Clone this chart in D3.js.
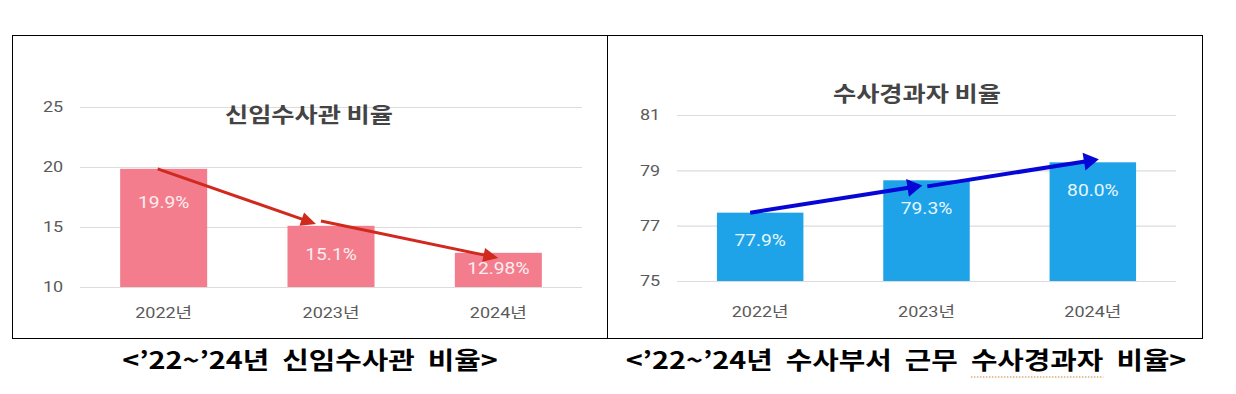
<!DOCTYPE html>
<html>
  <head>
    <meta charset="utf-8">
    <style>
      body { margin: 0; background: #fff; }
      svg { display: block; }
    </style>
    <title>신임수사관 / 수사경과자 비율</title>
  </head>
  <body>
    <script src="https://cdn.jsdelivr.net/npm/d3@7"></script>
    <script>

/*========== Data ==========*/
const years = ["2022년", "2023년", "2024년"];

// left chart: 신임수사관 비율
const newTicks = [10, 15, 20, 25];
const newBars = [19.85, 15.1, 12.85];
const newLabels = ["19.9%", "15.1%", "12.98%"];
// trend arrows: [from index, from value, to index, to value]
const newTrend = [[-0.036, 19.85, 0.91, 15.25], [0.94, 15.5, 2.0, 12.42]];

// right chart: 수사경과자 비율
const careerTicks = [75, 77, 79, 81];
const careerBars = [77.47, 78.64, 79.29];
const careerLabels = ["77.9%", "79.3%", "80.0%"];
const careerTrend = [[-0.06, 77.47, 0.975, 78.45], [1.005, 78.42, 2.036, 79.4]];

const captions = ["<’22~’24년  신임수사관  비율>", "<’22~’24년  수사부서  근무  수사경과자  비율>"];

/*========== Zones ==========*/
const W = 1236, H = 394;
const SX = 1.2; // the original image is stretched horizontally
const svg = d3.select("body").append("svg")
    .attr("width", W)
    .attr("height", H);

const fontUI = "Roboto, 'Noto Sans CJK KR', sans-serif";
const fontKR = "'Noto Sans CJK KR', sans-serif";

// text placed at (x, y) with the horizontal stretch
function stretchedText(g, x, y) {
  return g.append("text").attr("transform", `translate(${x},${y}) scale(${SX},1)`);
}

// panel config (layout only)
const panels = [
  { box: [12, 35, 595, 303], xr: [80, 582], yr: [287, 107], domain: [10, 25],
    ticks: newTicks, bars: newBars, labels: newLabels, trend: newTrend,
    title: "신임수사관 비율", titleX: 309, titleY: 115,
    barColor: "#f47d8d", labelColor: "#fbeef0", arrowColor: "#d0291d", arrowW: 3, headL: 15, headW: 7,
    labelGap: 34, labelMin: true, xLabelY: 313 },
  { box: [607, 35, 595, 303], xr: [677, 1176], yr: [281, 115], domain: [75, 81],
    ticks: careerTicks, bars: careerBars, labels: careerLabels, trend: careerTrend,
    title: "수사경과자 비율", titleX: 917, titleY: 94,
    barColor: "#1ea3e8", labelColor: "#e6f6ff", arrowColor: "#0606d6", arrowW: 4, headL: 15, headW: 9,
    labelGap: 28, labelMin: false, xLabelY: 312 }
];

function drawPanel(p) {
  const g = svg.append("g");

  g.append("rect")
      .attr("x", p.box[0] + 0.5).attr("y", p.box[1] + 0.5)
      .attr("width", p.box[2]).attr("height", p.box[3])
      .attr("fill", "none").attr("stroke", "#000").attr("stroke-width", 1);

  const x = d3.scaleBand().domain(years).range(p.xr)
      .paddingInner(0.48).paddingOuter(0.24);
  const y = d3.scaleLinear().domain(p.domain).range(p.yr);
  // fractional category index -> band centre
  const xi = d3.scaleLinear().domain([0, 1])
      .range([x(years[0]) + x.bandwidth() / 2, x(years[1]) + x.bandwidth() / 2]);

  // grid lines + tick labels
  const yAxis = d3.axisLeft(y).tickValues(p.ticks)
      .tickSize(-(p.xr[1] - p.xr[0])).tickPadding(14).tickFormat(d3.format("d"));
  const ax = g.append("g")
      .attr("transform", `translate(${p.xr[0]},0)`)
      .call(yAxis);
  ax.select(".domain").remove();
  ax.selectAll(".tick line").attr("stroke", "#dcdcdc").attr("stroke-width", 1.2);
  ax.selectAll(".tick text")
      .attr("transform", `scale(${SX},1)`)
      .attr("fill", "#5a5a5a").style("font-family", fontUI).style("font-size", "15px");

  // x labels
  years.forEach(d => {
    stretchedText(g, x(d) + x.bandwidth() / 2, p.xLabelY)
        .attr("dy", "0.35em")
        .attr("text-anchor", "middle")
        .attr("fill", "#5a5a5a")
        .style("font-family", fontUI).style("font-size", "15px")
        .text(d);
  });

  // title
  stretchedText(g, p.titleX, p.titleY)
      .attr("dy", "0.35em")
      .attr("text-anchor", "middle")
      .attr("fill", "#444")
      .style("font-family", fontKR).style("font-size", "21px").style("font-weight", "bold")
      .text(p.title);

  // bars
  g.selectAll(".bar").data(p.bars).enter().append("rect")
      .attr("x", (d, i) => x(years[i]))
      .attr("y", d => y(d))
      .attr("width", x.bandwidth())
      .attr("height", d => y(p.domain[0]) - y(d))
      .attr("fill", p.barColor);

  // value labels inside bars
  p.bars.forEach((d, i) => {
    const h = y(p.domain[0]) - y(d);
    const off = p.labelMin ? Math.min(p.labelGap, h / 2 - 2) : p.labelGap;
    stretchedText(g, x(years[i]) + x.bandwidth() / 2, y(d) + off)
        .attr("dy", "0.35em")
        .attr("text-anchor", "middle")
        .attr("fill", p.labelColor)
        .style("font-family", fontUI).style("font-size", "16px")
        .text(p.labels[i]);
  });

  // trend arrows
  p.trend.forEach(t => {
    const x0 = xi(t[0]), y0 = y(t[1]), x1 = xi(t[2]), y1 = y(t[3]);
    const a = Math.atan2(y1 - y0, x1 - x0);
    const bx = x1 - p.headL * Math.cos(a), by = y1 - p.headL * Math.sin(a);
    g.append("line")
        .attr("x1", x0).attr("y1", y0).attr("x2", bx + Math.cos(a)).attr("y2", by + Math.sin(a))
        .attr("stroke", p.arrowColor).attr("stroke-width", p.arrowW);
    const nx = -Math.sin(a) * p.headW, ny = Math.cos(a) * p.headW;
    g.append("path")
        .attr("d", d3.line()([[x1, y1], [bx + nx, by + ny], [bx - nx, by - ny]]) + "Z")
        .attr("fill", p.arrowColor);
  });
}

panels.forEach(drawPanel);

/*========== Captions ==========*/
const capX = [310, 906];
captions.forEach((c, i) => {
  const t = stretchedText(svg, capX[i], 369)
      .attr("text-anchor", "middle")
      .attr("fill", "#000")
      .style("font-family", fontKR).style("font-size", "24px").style("font-weight", "bold")
      .style("white-space", "pre")
      .text(c);
  // dotted spell-check underline under 수사경과자
  const k = c.indexOf("수사경과자");
  if (i === 1 && k >= 0) {
    const node = t.node();
    const sx = capX[i] + SX * node.getStartPositionOfChar(k).x;
    const w = SX * node.getSubStringLength(k, 5);
    svg.append("line")
        .attr("x1", sx).attr("x2", sx + w)
        .attr("y1", 377).attr("y2", 377)
        .attr("stroke", "#c8803a").attr("stroke-width", 1.2)
        .attr("stroke-dasharray", "1.5,1.5");
  }
});

    </script>
  </body>
</html>
